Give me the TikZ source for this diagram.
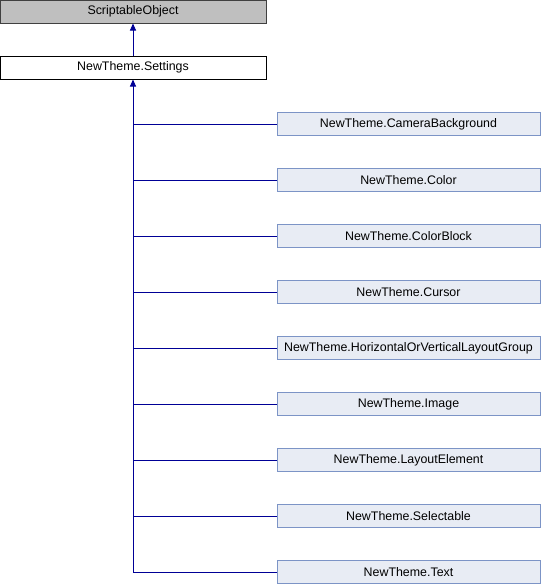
\documentclass[tikz,border=0pt]{standalone}
\usepackage{fontspec}
\setmainfont{Liberation Sans}
\usetikzlibrary{arrows.meta}
\definecolor{edgeblue}{RGB}{0,0,150}
\definecolor{basefill}{RGB}{191,191,191}
\definecolor{baseline}{RGB}{64,64,64}
\definecolor{kidfill}{RGB}{232,236,244}
\definecolor{kidline}{RGB}{124,148,198}
\tikzset{
  x=1pt, y=-1pt,
  every node/.style={font=\fontsize{12.4}{14}\selectfont, inner sep=0pt, anchor=center},
  basebox/.style={draw=baseline, fill=basefill, line width=1pt, minimum width=266pt, minimum height=23pt},
  parentbox/.style={draw=black, fill=white, line width=1pt, minimum width=266pt, minimum height=23pt},
  kidbox/.style={draw=kidline, fill=kidfill, line width=1pt, minimum width=263pt, minimum height=23pt},
  link/.style={draw=edgeblue, line width=1pt},
  inherit/.style={link, -{Triangle[length=7pt,width=6pt]}}
}
\begin{document}
\begin{tikzpicture}
\useasboundingbox (0,0) rectangle (544,584);
\node[basebox] (so) at (133,11.5) {ScriptableObject};
\node[parentbox] (set) at (133,67.5) {NewTheme.Settings};
\node[kidbox] (k1) at (408.5,124) {NewTheme.CameraBackground};
\node[kidbox] (k2) at (408.5,180) {NewTheme.Color};
\node[kidbox] (k3) at (408.5,236) {NewTheme.ColorBlock};
\node[kidbox] (k4) at (408.5,292) {NewTheme.Cursor};
\node[kidbox] (k5) at (408.5,348) {NewTheme.HorizontalOrVerticalLayoutGroup};
\node[kidbox] (k6) at (408.5,404) {NewTheme.Image};
\node[kidbox] (k7) at (408.5,460) {NewTheme.LayoutElement};
\node[kidbox] (k8) at (408.5,516) {NewTheme.Selectable};
\node[kidbox] (k9) at (408.5,572) {NewTheme.Text};
% inheritance edges
\draw[inherit] (set.north) -- (so.south);
\draw[inherit] (k9.west -| set.south) -- (set.south);
\foreach \k in {k1,k2,k3,k4,k5,k6,k7,k8,k9}
  \draw[link] (\k.west) -- (\k.west -| set.south);
\end{tikzpicture}
\end{document}
